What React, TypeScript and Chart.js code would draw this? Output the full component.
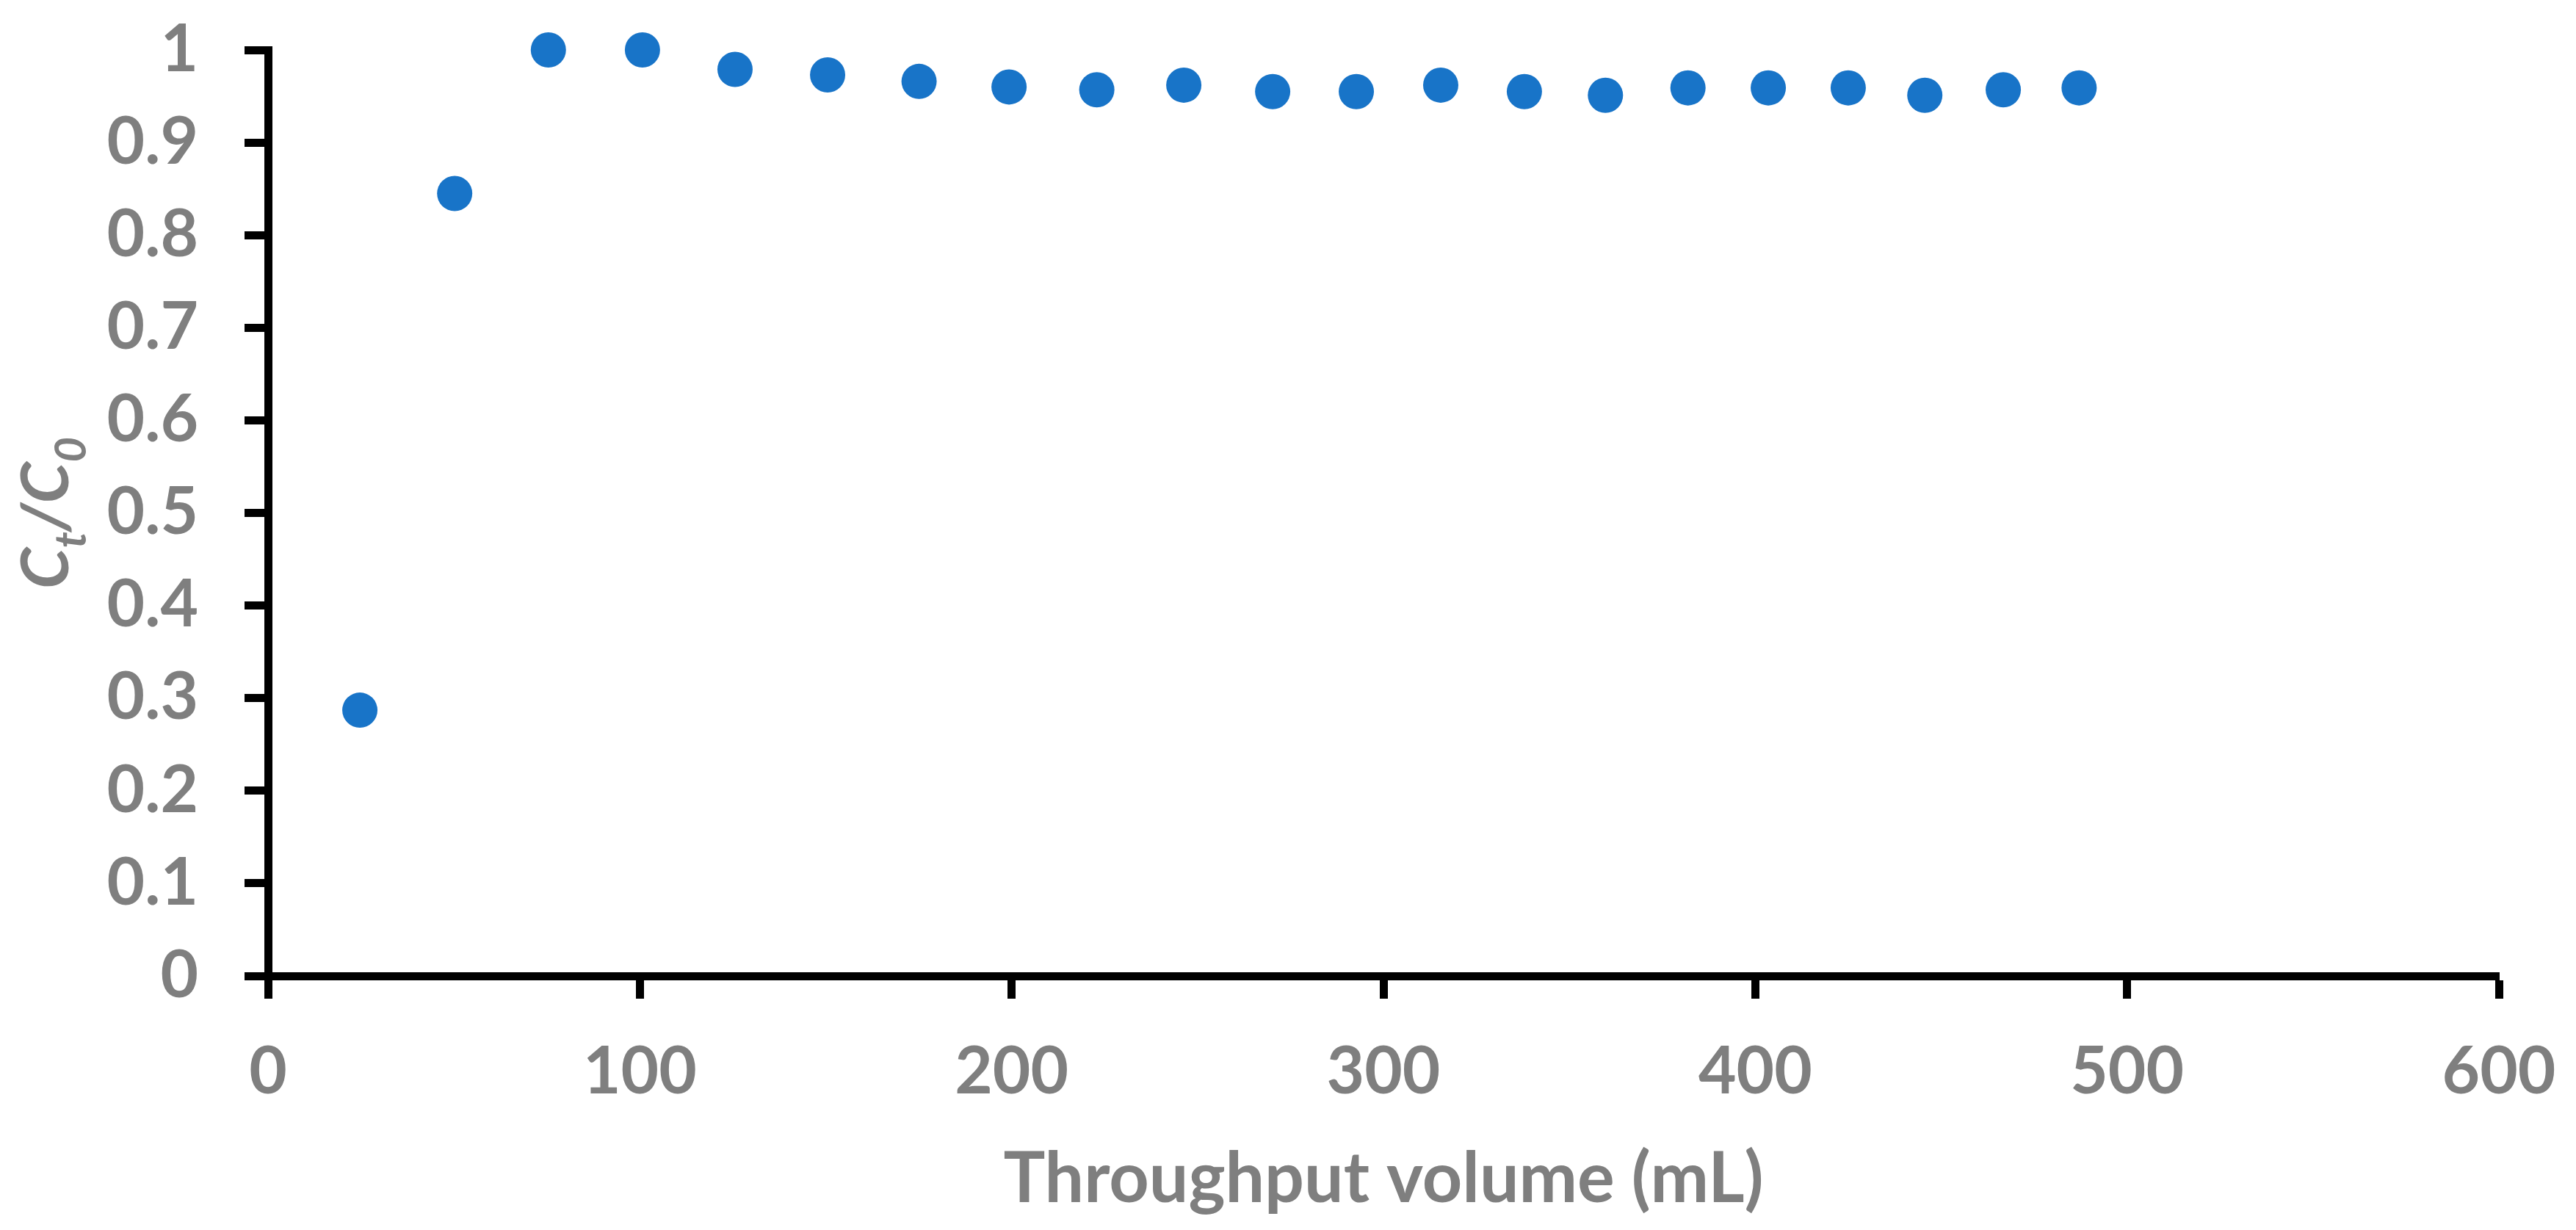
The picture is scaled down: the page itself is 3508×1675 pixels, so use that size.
import React, { useEffect, useRef } from "react";
import { Chart, registerables } from "chart.js";

Chart.register(...registerables);

// ---- Data ----
const throughputVolume = [
  24.7, 50.2, 75.4, 100.7, 125.6, 150.5, 175.1, 199.3, 222.9, 246.3, 270.2,
  292.7, 315.4, 337.9, 359.7, 381.9, 403.5, 425.0, 445.6, 466.7, 487.1,
];
const ctOverC0 = [
  0.287, 0.845, 1.0, 1.0, 0.979, 0.973, 0.966, 0.96, 0.957, 0.962, 0.955,
  0.955, 0.962, 0.955, 0.951, 0.959, 0.959, 0.959, 0.951, 0.957, 0.959,
];
const xTickLabels = ["0", "100", "200", "300", "400", "500", "600"];
const yTickLabels = ["0", "0.1", "0.2", "0.3", "0.4", "0.5", "0.6", "0.7", "0.8", "0.9", "1"];
const xAxisTitle = "Throughput volume (mL)";
const yAxisTitleParts = [
  { text: "C", sub: false },
  { text: "t", sub: true },
  { text: "/C", sub: false },
  { text: "0", sub: true },
];

const FONT = "Lato";
const GRAY = "#7f7f7f";
const BLUE = "#1874c8";

const yTitlePlugin = {
  id: "yTitleSub",
  afterDraw(chart: any) {
    const ctx = chart.ctx as CanvasRenderingContext2D;
    const area = chart.chartArea;
    const yScale = chart.scales.y;
    const mainSize = 90;
    const subSize = 60;
    const subOffset = 24;
    const mainFont = `italic bold ${mainSize}px ${FONT}`;
    const subFont = `italic bold ${subSize}px ${FONT}`;
    ctx.save();
    let total = 0;
    const widths = yAxisTitleParts.map((p) => {
      ctx.font = p.sub ? subFont : mainFont;
      const w = ctx.measureText(p.text).width;
      total += w;
      return w;
    });
    const cx = yScale.left + 93;
    const cy = (area.top + area.bottom) / 2;
    ctx.translate(cx, cy);
    ctx.rotate(-Math.PI / 2);
    ctx.fillStyle = GRAY;
    ctx.textBaseline = "alphabetic";
    ctx.textAlign = "left";
    let x = -total / 2;
    yAxisTitleParts.forEach((p, i) => {
      ctx.font = p.sub ? subFont : mainFont;
      ctx.fillText(p.text, x, p.sub ? subOffset : 0);
      x += widths[i];
    });
    ctx.restore();
  },
};

export default function App() {
  const canvasRef = useRef<HTMLCanvasElement | null>(null);

  useEffect(() => {
    document.body.style.margin = "0";
    const canvas = canvasRef.current;
    if (!canvas) return;
    const points = throughputVolume.map((x, i) => ({ x, y: ctOverC0[i] }));
    const tickFont = { family: FONT, size: 89, weight: "bold" as const, lineHeight: 1.2 };

    const chart = new Chart(canvas, {
      type: "scatter",
      data: {
        datasets: [
          {
            data: points,
            backgroundColor: BLUE,
            borderColor: BLUE,
            borderWidth: 0,
            pointRadius: 24,
            pointHoverRadius: 24,
            showLine: false,
            clip: false as any,
          },
        ],
      },
      options: {
        responsive: false,
        animation: false,
        devicePixelRatio: 1,
        layout: { padding: { top: 68, right: 105, left: 0, bottom: 0 } },
        plugins: {
          legend: { display: false },
          tooltip: { enabled: false },
        },
        scales: {
          x: {
            type: "linear",
            position: "bottom",
            min: 0,
            max: 600,
            ticks: {
              stepSize: 100,
              color: GRAY,
              font: tickFont,
              padding: 47,
              maxRotation: 0,
              callback: (_v: any, i: number) => xTickLabels[i],
            },
            grid: {
              drawOnChartArea: false,
              drawTicks: true,
              tickLength: 31,
              tickWidth: 11,
              tickColor: "#000000",
              color: "#000000",
            },
            border: { display: true, color: "#000000", width: 11 },
            title: {
              display: true,
              text: xAxisTitle,
              color: GRAY,
              font: { family: FONT, size: 95, weight: "bold", lineHeight: 1.2 },
              padding: { top: 0, bottom: 12 },
            },
            afterFit: (scale: any) => {
              scale.height = 346;
              scale.paddingLeft = 0;
              scale.paddingRight = 0;
              scale.paddingTop = 0;
              scale.paddingBottom = 0;
            },
          },
          y: {
            type: "linear",
            position: "left",
            min: 0,
            max: 1,
            ticks: {
              stepSize: 0.1,
              color: GRAY,
              font: tickFont,
              padding: 63,
              callback: (_v: any, i: number) => yTickLabels[i],
            },
            grid: {
              drawOnChartArea: false,
              drawTicks: true,
              tickLength: 32,
              tickWidth: 11,
              tickColor: "#000000",
              color: "#000000",
            },
            border: { display: true, color: "#000000", width: 11 },
            afterFit: (scale: any) => {
              scale.width = 365;
              scale.paddingLeft = 0;
              scale.paddingRight = 0;
              scale.paddingTop = 0;
              scale.paddingBottom = 0;
            },
          },
        },
      },
      plugins: [yTitlePlugin],
    });

    return () => {
      chart.destroy();
    };
  }, []);

  return (
    <div style={{ width: 3508, height: 1675, background: "#ffffff" }}>
      <canvas
        ref={canvasRef}
        width={3508}
        height={1675}
        style={{ display: "block", width: 3508, height: 1675 }}
      />
    </div>
  );
}
